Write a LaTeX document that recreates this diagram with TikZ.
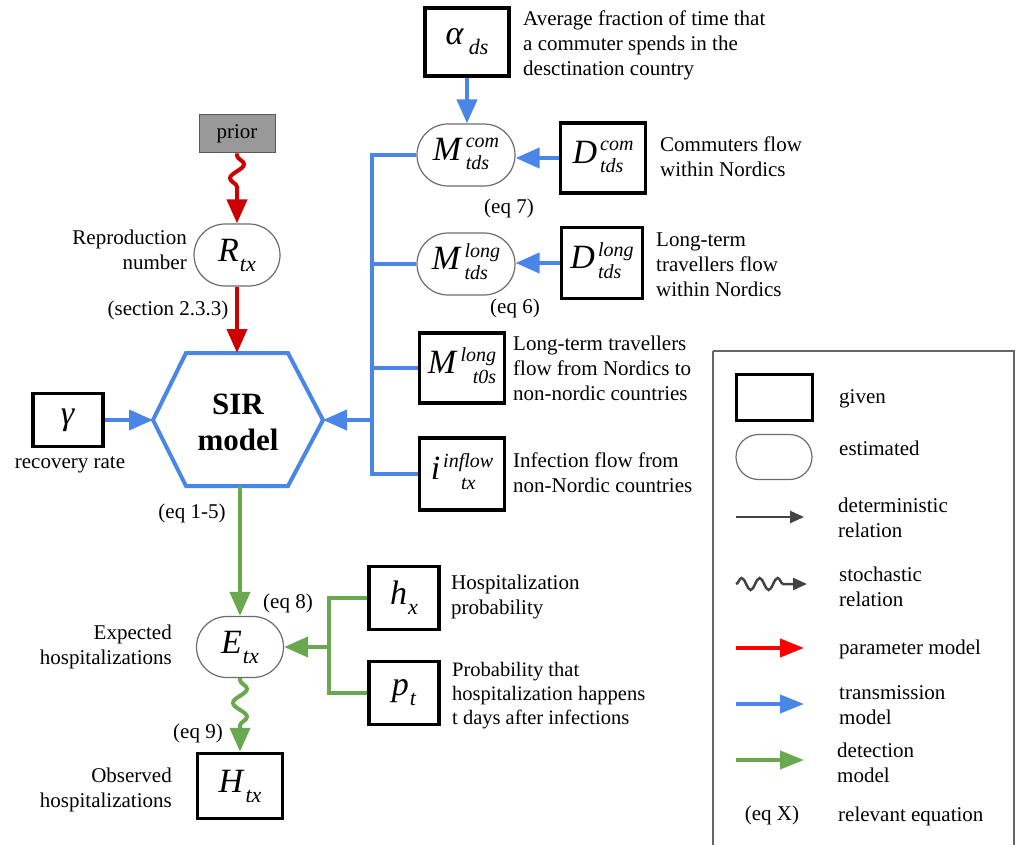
\documentclass[tikz,border=0pt]{standalone}
\usepackage{fontspec}
\setmainfont{Liberation Serif}
\usetikzlibrary{arrows.meta,shapes.misc,decorations.pathmorphing}
\definecolor{cred}{HTML}{CC0000}
\definecolor{cblue}{HTML}{4A86E8}
\definecolor{cgreen}{HTML}{6AA84F}
\definecolor{cdark}{HTML}{434343}
\definecolor{lred}{HTML}{FF0000}
\definecolor{priorfill}{HTML}{999999}
% symbol with stacked superscript and subscript
\newcommand\lblSS[4][l]{\textit{#2}\kern3pt{\fontsize{20}{20}\selectfont\itshape\begin{tabular}[c]{@{}#1@{}}#3\\[2pt]#4\end{tabular}}}
% symbol with lowered subscript
\newcommand\lblS[3][1pt]{\textit{#2}\kern#1\raisebox{-10pt}{\fontsize{22}{22}\selectfont\itshape #3}}
\begin{document}
\begin{tikzpicture}[x=1pt,y=-1pt,
  font=\fontsize{21}{25}\selectfont,
  given/.style={draw, line width=3.5pt, inner sep=0pt, font=\fontsize{34}{34}\selectfont},
  est/.style={rounded rectangle, draw=gray!85!black, line width=1.2pt, inner sep=0pt, font=\fontsize{34}{34}\selectfont},
  txt/.style={align=left, anchor=west, inner sep=0pt},
  rtxt/.style={align=right, anchor=east, inner sep=0pt},
  ctxt/.style={align=center, inner sep=0pt},
  tip/.style={-{Triangle[length=24pt,width=20pt]}},
  smalltip/.style={-{Triangle[length=14pt,width=12pt]}},
  redln/.style={cred, line width=4pt},
  blueln/.style={cblue, line width=4pt},
  greenln/.style={cgreen, line width=4pt},
  wavy/.style={decorate, decoration={snake, amplitude=7pt, segment length=28pt, pre length=2pt, post length=26pt}}
]
\useasboundingbox (0,0) rectangle (1019,845);

% ---------- left column ----------
\node[draw=gray!70!black, fill=priorfill, line width=1pt, minimum width=76pt, minimum height=38pt, inner sep=0pt] (prior) at (237,134) {prior};
\node[est, minimum width=86pt, minimum height=62pt] (R) at (237,255) {\lblS{R}{tx}};
\node[rtxt] (Rlab) at (187,250) {Reproduction\\number};
\node[ctxt] (sec) at (168,310) {(section 2.3.3)};

% SIR hexagon
\coordinate (sirL) at (153,420);
\coordinate (sirR) at (323,420);
\coordinate (sirT) at (238,353);
\coordinate (sirB) at (238,486);
\draw[blueln, line join=miter] (sirL) -- (186,353) -- (288,353) -- (sirR) -- (288,486) -- (186,486) -- cycle;
\node[ctxt, font=\fontsize{31}{36}\selectfont\bfseries] (sir) at (238,422) {SIR\\model};

\node[given, minimum width=70pt, minimum height=53pt] (gam) at (68,420) {\textit{γ}};
\node[ctxt] (gamlab) at (70,465) {recovery rate};
\node[ctxt] (eq15) at (192,513) {(eq 1-5)};

\node[est, minimum width=87pt, minimum height=61pt] (E) at (240,647) {\lblS{E}{tx}};
\node[rtxt] (Elab) at (172,647) {Expected\\hospitalizations};
\node[ctxt] (eq8) at (288,603) {(eq 8)};
\node[ctxt] (eq9) at (198,733) {(eq 9)};
\node[given, minimum width=85pt, minimum height=65pt] (H) at (240,786) {\lblS{H}{tx}};
\node[rtxt] (Hlab) at (172,790) {Observed\\hospitalizations};

\node[given, minimum width=70pt, minimum height=63pt] (hx) at (404,598) {\lblS{h}{x}};
\node[given, minimum width=70pt, minimum height=63pt] (pt) at (404,693) {\lblS{p}{t}};
\node[txt] (hxlab) at (451,597) {Hospitalization\\probability};
\node[txt, font=\fontsize{20.5}{24}\selectfont] (ptlab) at (452,696) {Probability that\\hospitalization happens\\t days after infections};

% ---------- right column ----------
\node[given, minimum width=84pt, minimum height=68pt] (alpha) at (467,42) {\lblS[5pt]{α}{ds}};
\node[txt] (alphalab) at (523,45) {Average fraction of time that\\a commuter spends in the\\desctination country};

\node[est, minimum width=98pt, minimum height=62pt] (Mcom) at (466,155) {\lblSS{M}{com}{tds}};
\node[given, minimum width=85pt, minimum height=70pt] (Dcom) at (603,158) {\lblSS{D}{com}{tds}};
\node[txt] (Dcomlab) at (660,157) {Commuters flow\\within Nordics};
\node[ctxt] (eq7) at (509,208) {(eq 7)};

\node[est, minimum width=98pt, minimum height=62pt] (Mlong) at (466,264) {\lblSS{M}{long}{tds}};
\node[given, minimum width=81pt, minimum height=71pt] (Dlong) at (602,263) {\lblSS{D}{long}{tds}};
\node[txt] (Dlonglab) at (656,265) {Long-term\\travellers flow\\within Nordics};
\node[ctxt] (eq6) at (515,308) {(eq 6)};

\node[given, minimum width=85pt, minimum height=70pt] (Mt0s) at (462,368) {\lblSS[r]{M}{long}{t0s}};
\node[txt] (Mt0slab) at (513,368) {Long-term travellers\\flow from Nordics to\\non-nordic countries};

\node[given, minimum width=85pt, minimum height=72pt] (iin) at (462,474) {\lblSS[c]{i}{inflow}{tx}};
\node[txt] (iinlab) at (513,473) {Infection flow from\\non-Nordic countries};

% ---------- connectors ----------
\draw[redln, tip, wavy] (prior.south) -- (R.north);
\draw[redln, tip] (R.south) -- (R.south |- sirT);
\draw[blueln, tip] (gam.east) -- (sirL);
\draw[greenln, tip] (sirB -| E.north) -- (E.north);
\draw[greenln, tip, wavy] (E.south) -- (H.north);

\draw[blueln, tip] (alpha.south) -- (alpha.south |- Mcom.north);
\draw[blueln, tip] (Dcom.west) -- (Dcom.west -| Mcom.east);
\draw[blueln, tip] (Dlong.west) -- (Dlong.west -| Mlong.east);

\coordinate (busT) at (372,155);
\coordinate (busM) at (372,420);
\draw[blueln] (Mcom.west) -- (busT) -- (busT |- iin.west) -- (iin.west);
\draw[blueln] (Mlong.west) -- (Mlong.west -| busT);
\draw[blueln] (Mt0s.west) -- (Mt0s.west -| busT);
\draw[blueln, tip] (busM) -- (sirR);

\coordinate (gM) at (329,647);
\draw[greenln] (hx.west) -- (hx.west -| gM) -- (pt.west -| gM) -- (pt.west);
\draw[greenln, tip] (gM) -- (E.east);

% ---------- legend ----------
\draw[gray!80!black, line width=1.2pt] (713,351) -- (1014,351) -- (1014,850);
\draw[gray!80!black, line width=1.2pt] (713,351) -- (713,850);
\node[draw, line width=3pt, minimum width=76pt, minimum height=46pt, inner sep=0pt] (lgiven) at (774,397) {};
\node[txt] (lgivent) at (839,399) {given};
\node[rounded rectangle, draw=gray!85!black, line width=1.2pt, minimum width=76pt, minimum height=45pt, inner sep=0pt] (lest) at (774,457) {};
\node[txt] (lestt) at (839,448) {estimated};

\coordinate (ld1) at (736,517);
\coordinate (ld2) at (804,517);
\draw[cdark, line width=2.5pt, smalltip] (ld1) -- (ld2);
\node[txt] (ldt) at (838,518) {deterministic\\relation};

\coordinate (ls1) at (736,584);
\coordinate (ls2) at (807,584);
\draw[cdark, line width=2.5pt, smalltip, decorate, decoration={snake, amplitude=6pt, segment length=18pt, post length=22pt}] (ls1) -- (ls2);
\node[txt] (lst) at (839,587) {stochastic\\relation};

\coordinate (lp1) at (736,648);
\coordinate (lp2) at (804,648);
\draw[lred, line width=4pt, -{Triangle[length=24pt,width=18pt]}] (lp1) -- (lp2);
\node[txt] (lpt) at (839,649) {parameter model};

\coordinate (lt1) at (736,704);
\coordinate (lt2) at (804,704);
\draw[cblue, line width=4pt, -{Triangle[length=24pt,width=18pt]}] (lt1) -- (lt2);
\node[txt] (ltt) at (839,705) {transmission\\model};

\coordinate (lg1) at (736,760);
\coordinate (lg2) at (804,760);
\draw[cgreen, line width=4pt, -{Triangle[length=24pt,width=18pt]}] (lg1) -- (lg2);
\node[txt] (lgt) at (837,763) {detection\\model};

\node[ctxt] (leq) at (772,815) {(eq X)};
\node[txt] (leqt) at (838,816) {relevant equation};
\end{tikzpicture}
\end{document}
